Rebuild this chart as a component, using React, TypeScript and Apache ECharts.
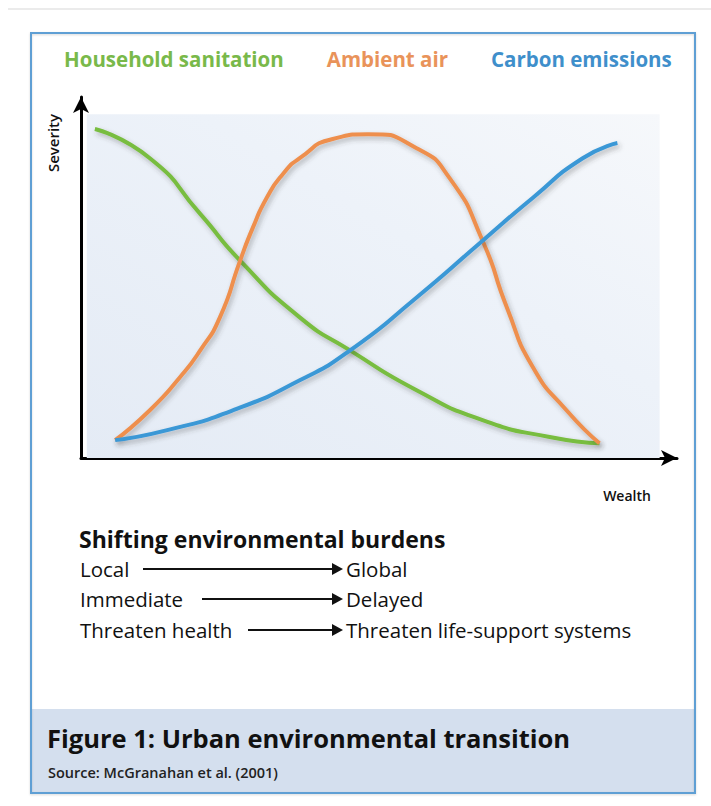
import React, { useEffect, useRef } from "react";
import * as echarts from "echarts";

const seriesNames = ["Household sanitation", "Ambient air", "Carbon emissions"];
const seriesColors = ["#78bd3f", "#ee8f4e", "#3b98d6"];
const legendColors = ["#79b94a", "#e9935a", "#3f8fcb"];

const sanitationWealth = [2.4, 11.9, 20.6, 27.5, 37.8, 46.5, 58.0, 69.4, 81.0, 89.6];
const sanitationSeverity = [95.7, 87.2, 71.0, 57.4, 40.9, 31.3, 19.7, 11.0, 6.1, 4.3];

const airWealth = [5.9, 11.9, 17.1, 20.6, 24.0, 27.5, 29.7, 32.1, 34.9, 37.8, 43.5, 49.6, 58.0, 63.7, 69.4, 73.6, 78.1, 83.9, 89.6];
const airSeverity = [5.2, 13.9, 23.5, 31.3, 40.9, 57.4, 67.0, 75.7, 82.6, 87.2, 92.8, 94.2, 90.1, 81.4, 63.2, 43.8, 26.4, 13.9, 4.3];

const carbonWealth = [5.9, 14.9, 26.3, 37.8, 46.5, 58.0, 69.4, 78.1, 86.7, 92.7];
const carbonSeverity = [5.2, 8.1, 13.9, 22.6, 31.3, 46.7, 63.2, 75.7, 87.2, 91.6];

const xAxisName = "Wealth";
const yAxisName = "Severity";
const burdenTitle = "Shifting environmental burdens";
const burdenFrom = ["Local", "Immediate", "Threaten health"];
const burdenTo = ["Global", "Delayed", "Threaten life-support systems"];
const figureTitle = "Figure 1: Urban environmental transition";
const figureSource = "Source: McGranahan et al. (2001)";

const FONT = "'Open Sans', 'Noto Sans', sans-serif";

function pairs(xs: number[], ys: number[]) {
  return xs.map((x, i) => [x, ys[i]]);
}

export default function App() {
  const ref = useRef<HTMLDivElement>(null);
  useEffect(() => {
    if (!ref.current) return;
    const chart = echarts.init(ref.current, undefined, { renderer: "svg" });
    const allData = [
      pairs(sanitationWealth, sanitationSeverity),
      pairs(airWealth, airSeverity),
      pairs(carbonWealth, carbonSeverity),
    ];
    const rowY = [569, 599, 630];
    const arrowStart = [143, 202, 248];
    const graphics: any[] = [
      { type: "line", shape: { x1: 8, y1: 9, x2: 711, y2: 9 }, style: { stroke: "#e4e4e4", lineWidth: 1.5 }, z: 1 },
      { type: "rect", shape: { x: 31, y: 709, width: 664, height: 84 }, style: { fill: "#d4dfee" }, z: 1 },
      {
        type: "rect", shape: { x: 31, y: 33, width: 664, height: 760 },
        style: { fill: "none", stroke: "#5f9fd4", lineWidth: 2, shadowColor: "rgba(0,0,0,0.15)", shadowBlur: 2, shadowOffsetY: 1 }, z: 2,
      },
      {
        type: "text", x: 53, y: 143, rotation: Math.PI / 2, z: 5,
        style: { text: yAxisName, fontFamily: FONT, fontSize: 15, fontWeight: 600, fill: "#111", align: "center", verticalAlign: "middle" },
      },
      {
        type: "text", x: 627, y: 495, z: 5,
        style: { text: xAxisName, fontFamily: FONT, fontSize: 14, fontWeight: 600, fill: "#111", align: "center", verticalAlign: "middle" },
      },
      {
        type: "text", x: 79, y: 539, z: 5,
        style: { text: burdenTitle, fontFamily: FONT, fontSize: 23, fontWeight: 700, fill: "#111", verticalAlign: "middle" },
      },
      {
        type: "text", x: 47, y: 738, z: 5,
        style: { text: figureTitle, fontFamily: FONT, fontSize: 25.5, fontWeight: 700, fill: "#111", verticalAlign: "middle" },
      },
      {
        type: "text", x: 48, y: 772, z: 5,
        style: { text: figureSource, fontFamily: FONT, fontSize: 14.5, fontWeight: 600, fill: "#222", verticalAlign: "middle" },
      },
    ];
    burdenFrom.forEach((t, i) => {
      const y = rowY[i];
      graphics.push({
        type: "text", x: 80, y, z: 5,
        style: { text: t, fontFamily: FONT, fontSize: 20.5, fill: "#111", verticalAlign: "middle" },
      });
      graphics.push({
        type: "line", z: 5, shape: { x1: arrowStart[i], y1: y, x2: 334, y2: y },
        style: { stroke: "#111", lineWidth: 2 },
      });
      graphics.push({
        type: "polygon", z: 5, shape: { points: [[332, y - 6], [343, y], [332, y + 6]] },
        style: { fill: "#111" },
      });
      graphics.push({
        type: "text", x: 346, y, z: 5,
        style: { text: burdenTo[i], fontFamily: FONT, fontSize: 20.5, fill: "#111", verticalAlign: "middle" },
      });
    });

    chart.setOption({
      animation: false,
      backgroundColor: "#ffffff",
      legend: {
        left: 54,
        top: 43,
        itemGap: 38,
        icon: "none",
        itemWidth: 0,
        itemHeight: 0,
        selectedMode: false,
        textStyle: { fontFamily: FONT, fontSize: 20.5, fontWeight: 700 },
        data: seriesNames.map((n, i) => ({ name: n, textStyle: { color: legendColors[i] } })),
      },
      grid: { left: 81, right: 34, top: 97, bottom: 348 },
      xAxis: {
        type: "value", min: 0, max: 103,
        axisLine: { show: true, symbol: ["none", "arrow"], symbolSize: [12, 16], lineStyle: { color: "#000", width: 3 } },
        axisTick: { show: false }, axisLabel: { show: false }, splitLine: { show: false },
      },
      yAxis: {
        type: "value", min: 0, max: 105,
        axisLine: { show: true, symbol: ["none", "arrow"], symbolSize: [12, 16], lineStyle: { color: "#000", width: 3 } },
        axisTick: { show: false }, axisLabel: { show: false }, splitLine: { show: false },
      },
      graphic: graphics,
      series: seriesNames.map((name, i) => ({
        name,
        type: "line",
        data: allData[i],
        smooth: 0.6,
        showSymbol: false,
        symbol: "none",
        z: 3 + i,
        lineStyle: {
          color: seriesColors[i], width: 4,
          shadowColor: "rgba(60,60,60,0.35)", shadowBlur: 5, shadowOffsetX: 2, shadowOffsetY: 3,
        },
        itemStyle: { color: seriesColors[i] },
        markArea: i === 0 ? {
          silent: true,
          itemStyle: {
            color: new echarts.graphic.LinearGradient(0, 1, 1, 0, [
              { offset: 0, color: "#e4ebf5" },
              { offset: 0.6, color: "#edf2f9" },
              { offset: 1, color: "#f6f8fb" },
            ]),
          },
          data: [[{ coord: [1, 0] }, { coord: [100, 100] }]],
        } : undefined,
      })),
    });
    return () => chart.dispose();
  }, []);
  return <div ref={ref} style={{ position: "absolute", left: 0, top: 0, width: 711, height: 806 }} />;
}
